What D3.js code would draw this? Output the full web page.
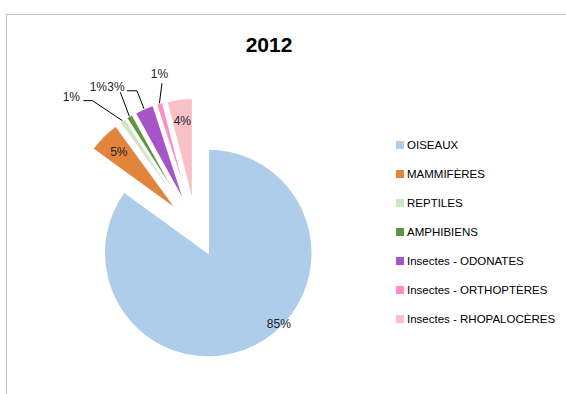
<!DOCTYPE html>
<html><head><meta charset="utf-8">
<script src="https://cdn.jsdelivr.net/npm/d3@7"></script>
<style>body{margin:0;background:#fff;}svg{display:block;}</style>
</head><body>
<script>
// ---- data ----
const title = "2012";
const categories = ["OISEAUX","MAMMIFÈRES","REPTILES","AMPHIBIENS","Insectes - ODONATES","Insectes - ORTHOPTÈRES","Insectes - RHOPALOCÈRES"];
const values = [85, 5, 1, 1, 3, 1, 4];
const labels = ["85%","5%","1%","1%","3%","1%","4%"];
const colors = ["#ADCDEA","#E3843C","#CCE5C3","#62943F","#A654C8","#FF8DCA","#F7C1C5"];

// ---- layout ----
const W = 566, H = 394;
const cx = 196, cy = 229, R = 104, explode = 27;
const font = "'Liberation Sans', Arial, sans-serif";
const labelLayout = [
  {type:"in", rf:0.96, angle:135},
  {type:"in", rf:0.79},
  {type:"out", text:[-51,-24], start:[-39,-20], elbow:[-30,-20]},
  {type:"out", text:[-31,-29], start:[-9,-24]},
  {type:"out", text:[-28,-22], start:[-17,-18], elbow:[-7,-18]},
  {type:"out", text:[0,-29], start:[2.5,-20]},
  {type:"in", rf:0.79}
];

const svg = d3.select("body").append("svg").attr("width", W).attr("height", H);
svg.append("rect").attr("x",0).attr("y",0).attr("width",W).attr("height",H).attr("fill","#fff");
svg.append("rect").attr("x",6.5).attr("y",14.5).attr("width",W+20).attr("height",H)
  .attr("fill","none").attr("stroke","#C6C6C6").attr("stroke-width",1.2);

svg.append("text").attr("x",269).attr("y",52).attr("text-anchor","middle")
  .attr("font-family",font).attr("font-weight","bold").attr("font-size",21).attr("fill","#000").text(title);

const pie = d3.pie().sort(null).startAngle(0).endAngle(2*Math.PI)(values);
const arc = d3.arc().innerRadius(0).outerRadius(R);

const g = svg.append("g").attr("transform",`translate(${cx},${cy})`);
function dir(a){ return [Math.sin(a), -Math.cos(a)]; }

pie.forEach((p,i)=>{
  const mid = (p.startAngle+p.endAngle)/2;
  const d = dir(mid);
  const ox = d[0]*explode, oy = d[1]*explode;
  const sg = g.append("g").attr("transform",`translate(${ox},${oy})`);
  sg.append("path").attr("d",arc(p)).attr("fill",colors[i]).attr("stroke","#fff").attr("stroke-width",1.5).attr("stroke-linejoin","round");
  const L = labelLayout[i];
  if(L.type==="in"){
    const a = L.angle!==undefined ? L.angle*Math.PI/180 : mid;
    const dd = dir(a);
    sg.append("text").attr("x",dd[0]*R*L.rf).attr("y",dd[1]*R*L.rf).attr("dy","0.35em")
      .attr("text-anchor","middle").attr("font-family",font).attr("font-size",12).attr("fill","#222").text(labels[i]);
  } else {
    const O = [d[0]*R, d[1]*R];
    const pts = [[O[0]+L.start[0], O[1]+L.start[1]]];
    if(L.elbow) pts.push([O[0]+L.elbow[0], O[1]+L.elbow[1]]);
    pts.push(O);
    sg.append("path").attr("d",d3.line()(pts)).attr("fill","none").attr("stroke","#000").attr("stroke-width",1);
    sg.append("text").attr("x",O[0]+L.text[0]).attr("y",O[1]+L.text[1]).attr("dy","0.35em")
      .attr("text-anchor","middle").attr("font-family",font).attr("font-size",12).attr("fill","#222").text(labels[i]);
  }
});

const leg = svg.append("g").attr("transform","translate(396,145)");
categories.forEach((c,i)=>{
  const y = i*29;
  leg.append("rect").attr("x",0).attr("y",y-4).attr("width",8).attr("height",8).attr("fill",colors[i]);
  leg.append("text").attr("x",11).attr("y",y).attr("dy","0.35em").attr("font-family",font).attr("font-size",11.5).attr("fill","#000").text(c);
});
</script>
</body></html>
